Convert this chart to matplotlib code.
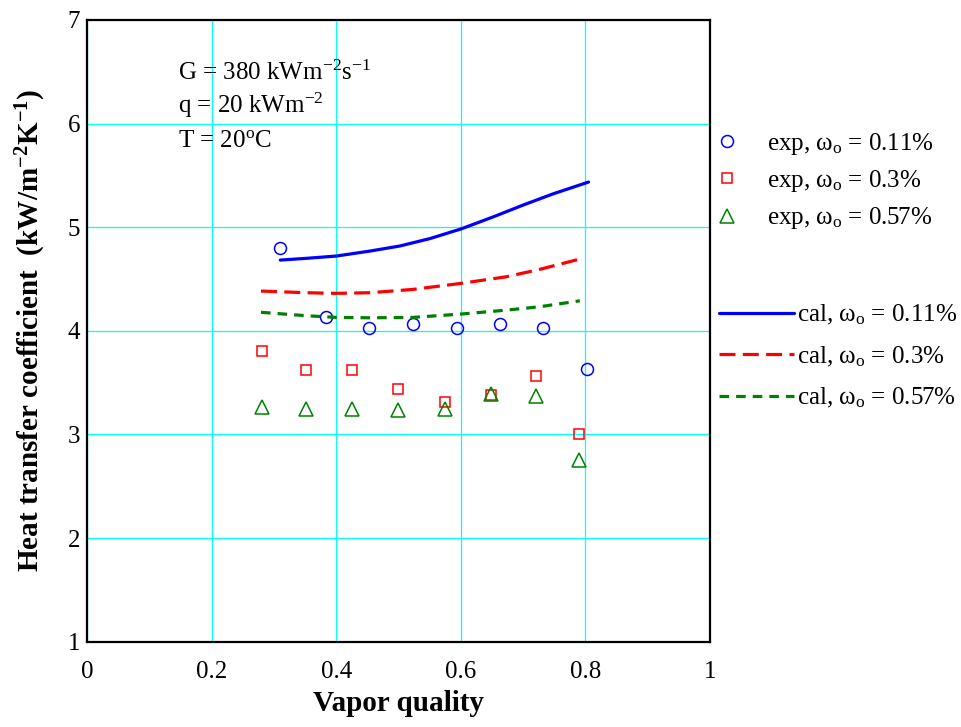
import matplotlib
matplotlib.use("Agg")
import matplotlib.pyplot as plt

plt.rcParams['font.family'] = ['Liberation Serif', 'DejaVu Serif']
plt.rcParams['mathtext.fontset'] = 'custom'
plt.rcParams['mathtext.rm'] = 'Liberation Serif'
plt.rcParams['mathtext.it'] = 'Liberation Serif:italic'
plt.rcParams['mathtext.bf'] = 'Liberation Serif:bold'

# --- measured points (vapor quality, h in kW/m2K) ---
x_exp1 = [0.31, 0.383, 0.453, 0.523, 0.593, 0.662, 0.732, 0.802]
h_exp1 = [4.80, 4.13, 4.03, 4.07, 4.03, 4.07, 4.03, 3.63]

x_exp2 = [0.28, 0.352, 0.425, 0.499, 0.574, 0.648, 0.72, 0.79]
h_exp2 = [3.81, 3.62, 3.62, 3.44, 3.31, 3.38, 3.56, 3.00]

x_exp3 = [0.28, 0.352, 0.425, 0.499, 0.574, 0.648, 0.72, 0.79]
h_exp3 = [3.27, 3.25, 3.25, 3.24, 3.245, 3.39, 3.37, 2.75]

# --- calculated curves ---
x_cal1 = [0.31, 0.352, 0.40, 0.454, 0.502, 0.55, 0.60, 0.652, 0.70, 0.748, 0.805]
h_cal1 = [4.683, 4.70, 4.722, 4.77, 4.819, 4.89, 4.983, 5.10, 5.214, 5.322, 5.436]

x_cal2 = [0.279, 0.352, 0.40, 0.454, 0.523, 0.60, 0.673, 0.727, 0.791]
h_cal2 = [4.384, 4.368, 4.362, 4.368, 4.40, 4.458, 4.522, 4.594, 4.693]

x_cal3 = [0.279, 0.352, 0.40, 0.454, 0.523, 0.60, 0.673, 0.727, 0.791]
h_cal3 = [4.179, 4.146, 4.13, 4.126, 4.13, 4.162, 4.20, 4.233, 4.29]

conditions = [r'G = 380 kWm$^{-2}$s$^{-1}$',
              r'q = 20 kWm$^{-2}$',
              r'T = 20$^{\mathrm{o}}$C']
cond_y = [6.42, 6.10, 5.776]

exp_labels = [r'exp, ω$_{\mathrm{o}}$ = 0.11%',
              r'exp, ω$_{\mathrm{o}}$ = 0.3%',
              r'exp, ω$_{\mathrm{o}}$ = 0.57%']
cal_labels = [r'cal, ω$_{\mathrm{o}}$ = 0.11%',
              r'cal, ω$_{\mathrm{o}}$ = 0.3%',
              r'cal, ω$_{\mathrm{o}}$ = 0.57%']

fig = plt.figure(figsize=(9.61, 7.27), dpi=100)
ax = fig.add_axes([0.0908, 0.1173, 0.648, 0.8552])

# experimental points
p1, = ax.plot(x_exp1, h_exp1, 'o', ms=8.6, mfc='none', mec='blue', mew=1.1, ls='none')
p2, = ax.plot(x_exp2, h_exp2, 's', ms=7.7, mfc='none', mec='red', mew=1.1, ls='none')
p3, = ax.plot(x_exp3, h_exp3, '^', ms=10, mfc='none', mec='green', mew=1.1, ls='none')

# model curves
l1, = ax.plot(x_cal1, h_cal1, color='blue', lw=2.3, solid_capstyle='round')
l2, = ax.plot(x_cal2, h_cal2, color='red', lw=2.3, dashes=(5, 2.3))
l3, = ax.plot(x_cal3, h_cal3, color='green', lw=2.3, dashes=(3, 2.2))

for txt, yy in zip(conditions, cond_y):
    ax.text(0.1457, yy, txt, fontsize=18, va='baseline', ha='left')

ax.set_xlim(0, 1)
ax.set_ylim(1, 7)
ax.set_xticks([0, 0.2, 0.4, 0.6, 0.8, 1])
ax.set_xticklabels(['0', '0.2', '0.4', '0.6', '0.8', '1'])
ax.set_yticks([1, 2, 3, 4, 5, 6, 7])
ax.tick_params(axis='x', length=0, pad=14, labelsize=18)
ax.tick_params(axis='y', length=0, pad=5, labelsize=18)
ax.grid(True, color='#00ffff', lw=0.9)
ax.set_axisbelow(True)
for sp in ax.spines.values():
    sp.set_linewidth(1.6)

ax.set_xlabel('Vapor quality', fontsize=21, fontweight='bold', labelpad=5)
ax.set_ylabel(r'Heat transfer coefficient  (kW/m$^{\mathbf{-2}}$K$^{\mathbf{-1}}$)',
              fontsize=21, fontweight='bold', labelpad=14)

leg1 = fig.legend([p1, p2, p3], exp_labels, loc='center left',
                  bbox_to_anchor=(0.7435, 0.751), frameon=False, fontsize=18,
                  handlelength=1.0, handletextpad=1.1, borderpad=0,
                  borderaxespad=0, labelspacing=0.45)
leg2 = fig.legend([l1, l2, l3], cal_labels, loc='center left',
                  bbox_to_anchor=(0.7478, 0.5095), frameon=False, fontsize=18,
                  handlelength=3.0, handletextpad=0.12, borderpad=0,
                  borderaxespad=0, labelspacing=0.7)

fig.savefig('out.png', dpi=100)
